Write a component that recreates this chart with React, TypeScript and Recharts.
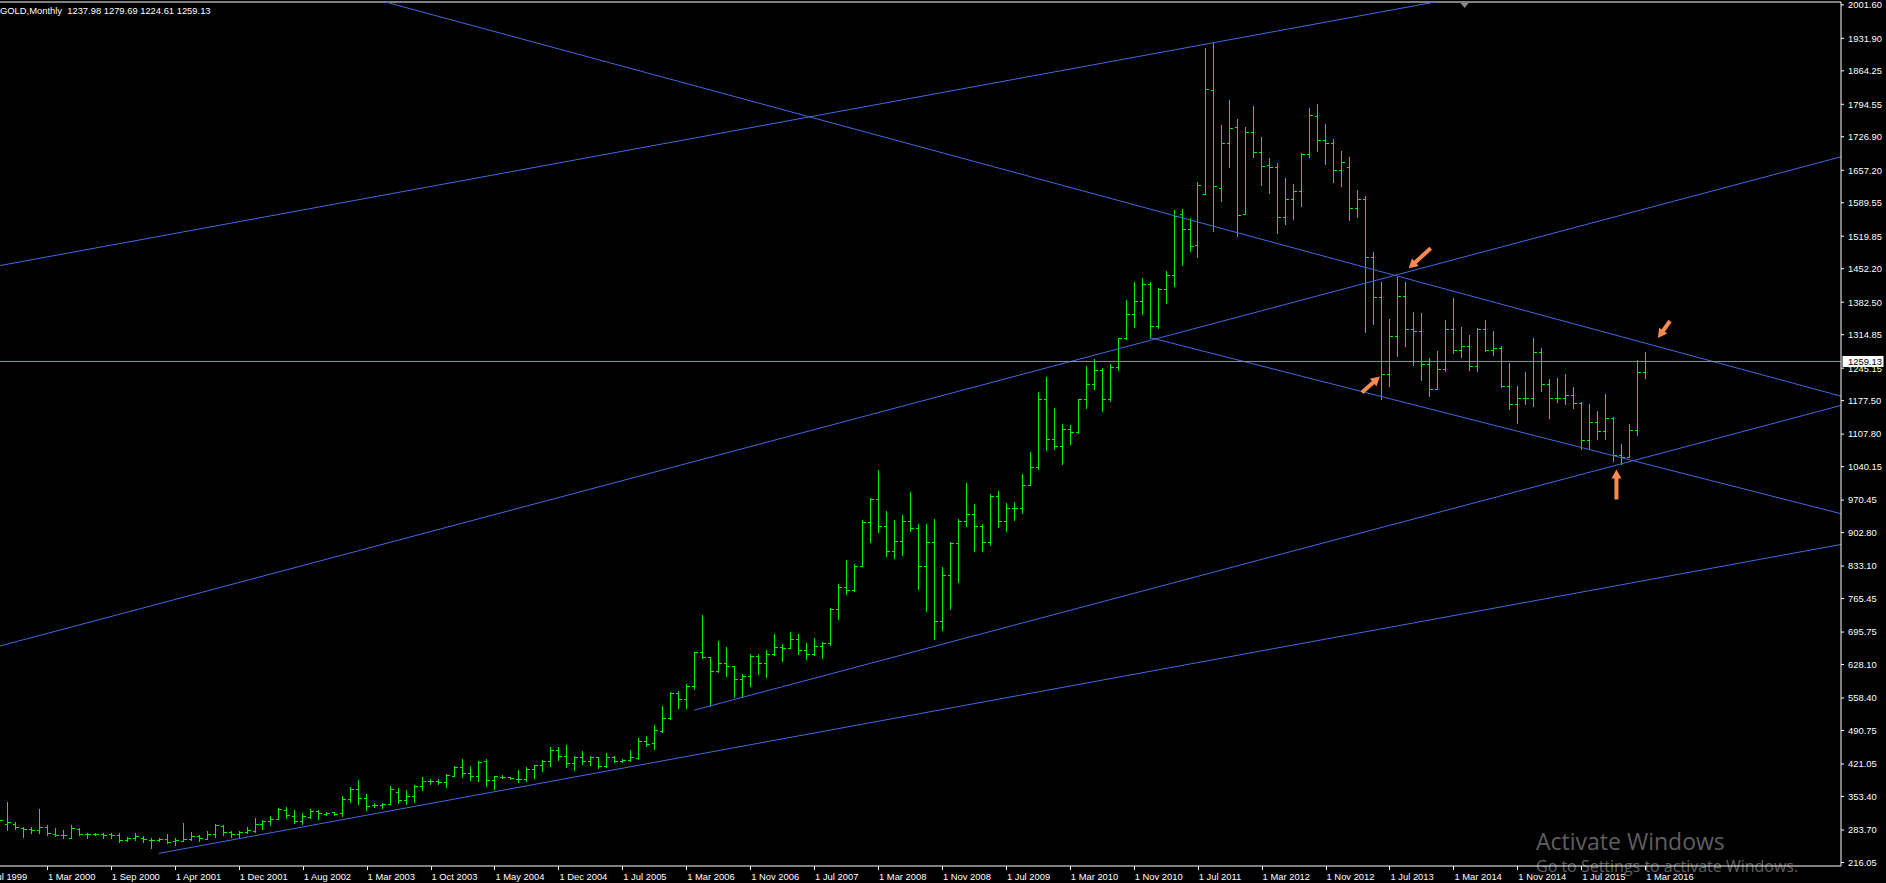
import React from "react";
import { ComposedChart, Bar, XAxis, YAxis, ReferenceLine, ReferenceDot } from "recharts";

// Barras mensais do ouro (OHLC); índice 0 = primeira barra visível.
const OPEN = [
  302, 295.5, 295.5, 288, 285.9, 282.9, 290.7, 275.4, 274, 267.7, 285.2, 275.4, 276.3, 275.4, 274.7, 272.6, 262.9, 267, 267, 262.9,
  262.9, 264.3, 260.7, 261.4, 264.1, 271.1, 265.5, 275.3, 291.9, 279.4, 275.3, 279.4, 280.8, 296.1, 303, 307.2, 325.3, 312.8, 301.6, 311.4,
  322.5, 317.6, 320.4, 318.3, 347.5, 368.3, 349.5, 335.7, 335.7, 338.4, 362, 345.4, 353.7, 375.9, 385, 385, 382.9, 396.8, 414.1, 401.6,
  395.4, 427.3, 387, 393.8, 393.3, 390.6, 390.6, 410, 418.3, 428, 450.3, 437.8, 422.5, 436.4, 428, 435, 416.9, 435, 426.7, 428.7,
  433.6, 468.3, 464.2, 490.6, 516, 569, 556, 583, 654, 643, 614, 632, 625, 599, 604, 646, 632, 651, 665, 663,
  681, 659, 650, 666, 672, 743, 789, 783, 834, 924, 972, 916, 865, 886, 928, 912, 833, 884, 718, 814,
  882, 927, 942, 916, 883, 979, 927, 954, 955, 1001, 1040, 1182, 1097, 1083, 1118, 1113, 1180, 1212, 1242, 1181,
  1247, 1308, 1358, 1385, 1421, 1333, 1409, 1439, 1565.5, 1534.3, 1500.9, 1608, 1823.9, 1619.7, 1713.4, 1746.8, 1565.5, 1736.3, 1696.1, 1668.3,
  1664.8, 1559.3, 1596.8, 1613.4, 1690.5, 1769.7, 1720.4, 1713.4, 1657.9, 1664.1, 1578, 1597.5, 1476, 1393, 1234, 1313, 1395, 1326, 1323, 1253,
  1202, 1244, 1326, 1284, 1291, 1250, 1327, 1282, 1287, 1209, 1171, 1183, 1184, 1279, 1213, 1183, 1184, 1190, 1172, 1095,
  1133, 1115, 1142, 1064, 1061, 1116, 1237.98,
];
const HIGH = [
  308, 342, 300, 290.7, 290.7, 327.4, 294.7, 288, 282.9, 294.3, 288, 277.5, 277.5, 277.5, 276.8, 277, 269.8, 276.8, 271.2, 266.3,
  266.3, 275, 266.9, 298.9, 279.4, 272.5, 280.8, 296.1, 293.3, 281.5, 280.8, 289.1, 307.9, 304.4, 312.8, 329.4, 330.8, 325.3, 319.7, 326.7,
  325.3, 321.1, 321.1, 354.4, 373.2, 387.7, 358.6, 339.8, 339.8, 375.2, 371.8, 366.2, 377.3, 394, 389.1, 389.8, 399.5, 416.2, 431.5, 416.9,
  427.3, 431.5, 396, 397.3, 394.7, 408.6, 414.1, 419, 428.7, 456.5, 456.5, 460.7, 437.8, 447.5, 437.8, 436.4, 444, 437.8, 430.8, 450.3,
  475.3, 479.4, 501.7, 541.9, 570, 574, 587, 654.5, 732, 644, 677, 664, 626, 609, 650, 650, 658, 691, 670, 696,
  692, 672, 683, 675, 745, 795, 845, 838, 930, 975, 1033, 947, 929, 939, 988, 921, 920, 932, 831, 884,
  931, 1006, 962, 920, 983, 989, 964, 966, 1024, 1070, 1195, 1227, 1162, 1128, 1127, 1181, 1249, 1265, 1245, 1253,
  1308, 1388, 1424, 1432, 1424, 1412, 1448, 1575, 1575.9, 1557.2, 1632.2, 1911.4, 1921.8, 1751.6, 1803.7, 1764.1, 1746.8, 1791.2, 1725.9, 1682.2,
  1671.8, 1641.2, 1628.7, 1692.6, 1786.4, 1795.4, 1753.7, 1722.5, 1697.5, 1685.7, 1616.2, 1603.7, 1487.7, 1425, 1348, 1434, 1424, 1362, 1361, 1267,
  1280, 1346, 1392, 1331, 1315, 1328, 1345, 1322, 1292, 1255, 1208, 1238, 1307, 1287, 1223, 1224, 1232, 1205, 1174, 1170,
  1157, 1191, 1143, 1088, 1128, 1263, 1279.69,
];
const LOW = [
  298, 283.5, 285, 269.8, 276.8, 277.5, 272.6, 271, 266.3, 267, 274, 266.3, 272.6, 267, 267, 259.3, 260.5, 263.6, 258.6, 246.1,
  261.5, 255.8, 253, 261.4, 262.8, 261.4, 264.1, 269.7, 272.5, 269.7, 269.7, 276.7, 279.4, 285, 294.7, 305.8, 308.6, 298.9, 296.1, 308.6,
  307.2, 315.5, 315.5, 313.4, 341.2, 338.4, 324.5, 331.5, 328.7, 337, 339.8, 338.4, 342.6, 367.6, 380.1, 380.1, 373.2, 395.4, 394, 388.4,
  385.7, 375.9, 369, 392.3, 390.6, 384.3, 386.4, 391.9, 407.2, 416.9, 429.4, 415.5, 408.6, 421.1, 419, 413.4, 414.1, 425.3, 425.3, 428,
  432.2, 458.6, 453, 487.8, 515, 538, 538, 578, 642, 542, 612, 605, 560, 560, 583, 609, 603, 648, 636, 662,
  651, 640, 648, 642, 669, 722, 776, 781, 834, 884, 904, 855, 850, 856, 907, 786, 740, 681, 700, 743,
  800, 917, 864, 865, 877, 915, 906, 930, 943, 1001, 1035, 1075, 1076, 1045, 1088, 1110, 1163, 1202, 1157, 1176,
  1241, 1306, 1331, 1357, 1309, 1329, 1381, 1417, 1459.9, 1489.8, 1477.3, 1607, 1531.5, 1594, 1664.8, 1521, 1565.5, 1685.6, 1627.3, 1610.6,
  1525.9, 1544.7, 1555.1, 1583.6, 1684.3, 1698.2, 1670.4, 1633.6, 1625.2, 1553.7, 1560.7, 1321, 1338, 1180, 1208, 1271, 1292, 1251, 1221, 1187,
  1202, 1239, 1277, 1268, 1241, 1240, 1281, 1272, 1206, 1161, 1131, 1170, 1167, 1197, 1142, 1175, 1170, 1162, 1077, 1077,
  1098, 1098, 1052, 1046, 1061, 1106, 1224.61,
];
const CLOSE = [
  304, 299.7, 290.7, 286.6, 282.9, 290.7, 276.8, 272.6, 272.6, 288.7, 275.4, 275.4, 276.3, 274.2, 274, 262.9, 267, 271.2, 265.6, 262.9,
  264.9, 258.5, 262.8, 264.2, 270.4, 266.2, 274.6, 294.7, 279.4, 275.3, 279.4, 283.6, 296.1, 302.3, 307.2, 326.7, 315.5, 303, 312.8, 322.5,
  318.3, 319.7, 316.9, 347.5, 368.3, 349.5, 334.3, 335, 337.7, 369, 345.4, 353.7, 375.9, 385, 385, 382.9, 398.2, 414.1, 401.6, 395.4,
  425.9, 387, 395.4, 394.8, 391.9, 390.6, 410, 418.3, 428, 450.3, 437.8, 422.5, 436.4, 428, 435, 416.9, 435, 426.7, 428.7, 436.4,
  468.3, 462.8, 492, 516.3, 569, 556, 583, 654, 643, 614, 632, 625, 599, 604, 646, 632, 651, 665, 663, 681,
  659, 650, 666, 672, 743, 789, 783, 834, 924, 972, 916, 865, 886, 928, 912, 833, 884, 718, 814, 882,
  927, 942, 916, 883, 979, 927, 954, 955, 1001, 1040, 1182, 1097, 1083, 1118, 1113, 1180, 1212, 1242, 1181, 1247,
  1308, 1358, 1385, 1421, 1333, 1409, 1439, 1563, 1534.3, 1498.8, 1626.6, 1825.9, 1624.5, 1713.4, 1744.7, 1564.1, 1736.3, 1696.1, 1666.9, 1664.8,
  1559.3, 1596.8, 1613.4, 1690.5, 1771.8, 1720.4, 1713.4, 1657.9, 1673.9, 1578, 1597.5, 1476, 1393, 1234, 1313, 1395, 1326, 1323, 1253, 1202,
  1244, 1326, 1284, 1291, 1250, 1327, 1282, 1287, 1209, 1171, 1183, 1184, 1279, 1213, 1183, 1184, 1190, 1172, 1095, 1133,
  1115, 1142, 1064, 1060, 1116, 1238, 1259.13,
];

// rótulos do eixo de tempo: um a cada 8 barras, o primeiro duas barras antes da barra 0
const TICK_LABELS = [
  "1 Jul 1999", "1 Mar 2000", "1 Sep 2000", "1 Apr 2001", "1 Dec 2001", "1 Aug 2002", "1 Mar 2003", "1 Oct 2003", "1 May 2004",
  "1 Dec 2004", "1 Jul 2005", "1 Mar 2006", "1 Nov 2006", "1 Jul 2007", "1 Mar 2008", "1 Nov 2008", "1 Jul 2009", "1 Mar 2010",
  "1 Nov 2010", "1 Jul 2011", "1 Mar 2012", "1 Nov 2012", "1 Jul 2013", "1 Mar 2014", "1 Nov 2014", "1 Jul 2015", "1 Mar 2016",
];
const Y_TICKS = [
  2001.6, 1931.9, 1864.25, 1794.55, 1726.9, 1657.2, 1589.55, 1519.85, 1452.2, 1382.5, 1314.85, 1245.15, 1177.5, 1107.8,
  1040.15, 970.45, 902.8, 833.1, 765.45, 695.75, 628.1, 558.4, 490.75, 421.05, 353.4, 283.7, 216.05,
];
const Y_MIN = 208.7;
const Y_MAX = 2007.5;
const LAST_PRICE = 1259.13;
const HEADER = "GOLD,Monthly  1237.98 1279.69 1224.61 1259.13";

// linhas de tendência: dois pontos (barra, preço), prolongadas até a direita
const TRENDLINES = [
  { i1: 0, p1: 1458.4, i2: 230, p2: 2161.1, left: true },
  { i1: 20, p1: 235, i2: 230, p2: 876.6, left: false },
  { i1: 0, p1: 666.2, i2: 175, p2: 1439.9, left: true },
  { i1: 87, p1: 533.2, i2: 203, p2: 1046, left: false },
  { i1: 147.7, p1: 1559.9, i2: 230, p2: 1189.1, left: true },
  { i1: 144, p1: 1309, i2: 230, p2: 944.3, left: false },
];
// setas: ponta em (barra, preço)
const ARROW_BAR = [176.4, 172.8, 207.6, 202.4];
const ARROW_PRICE = [1453, 1228, 1308, 1034];
const ARROW_TAIL = [[22, -20], [-18, 16], [12, -17], [0, 30]];
const SHIFT_MARK_BAR = 183.4;

const LEAD = 2;
const SLOTS = 233;
const I_MIN = -LEAD - 0.5;
const I_MAX = SLOTS - LEAD - 0.5;
const GREEN = "#00f000";
const BLUE = "#4169e1";
const FONT = '"Liberation Sans", Arial, sans-serif';
const WM_FONT = '"Open Sans", "Noto Sans", sans-serif';

const rows = Array.from({ length: SLOTS }, (_, k) => {
  const i = k - LEAD;
  if (i < 0 || i >= OPEN.length) return { k, i };
  return { k, i, range: [LOW[i], HIGH[i]], o: OPEN[i], h: HIGH[i], l: LOW[i], c: CLOSE[i] };
});
const tickKeys = TICK_LABELS.map((_, j) => j * 8);

function OhlcBar(props: any) {
  const { x, y, width, height, payload } = props;
  if (!payload || payload.o == null) return null;
  const top = Math.min(y, y + height);
  let bot = Math.max(y, y + height);
  if (bot - top < 1) bot = top + 1;
  const span = payload.h - payload.l;
  const py = (v: number) => (span > 0 ? top + ((payload.h - v) / span) * (bot - top) : top);
  const cx = Math.round(x + width / 2) + 0.5;
  const yo = Math.round(py(payload.o)) + 0.5;
  const yc = Math.round(py(payload.c)) + 0.5;
  return (
    <g stroke={GREEN} strokeWidth={1} shapeRendering="crispEdges">
      <line x1={cx} x2={cx} y1={Math.round(top)} y2={Math.round(bot) + 1} />
      <line x1={cx - 3} x2={cx} y1={yo} y2={yo} />
      <line x1={cx} x2={cx + 3} y1={yc} y2={yc} />
    </g>
  );
}

function XTick(props: any) {
  const { x, y, payload } = props;
  const label = TICK_LABELS[payload.value / 8];
  const tx = Math.round(x) + 0.5;
  return (
    <g>
      <line x1={tx} x2={tx} y1={y} y2={y + 4} stroke="#fff" shapeRendering="crispEdges" />
      <text x={x + 1} y={y + 14} fill="#fff" fontSize={9.4} fontFamily={FONT}>
        {label}
      </text>
    </g>
  );
}

function BidLabel(props: any) {
  const vb = props.viewBox;
  if (!vb) return null;
  const xr = vb.x + vb.width;
  return (
    <g>
      <rect x={xr + 1.5} y={vb.y - 5.5} width={41} height={11} fill="#fff" />
      <text x={xr + 7} y={vb.y + 3.5} fontSize={9.4} fontFamily={FONT} fill="#000">
        {LAST_PRICE.toFixed(2)}
      </text>
    </g>
  );
}

function makeArrow(n: number) {
  return (props: any) => {
    const { cx, cy } = props;
    const [dx, dy] = ARROW_TAIL[n];
    const len = Math.hypot(dx, dy);
    const ux = -dx / len;
    const uy = -dy / len;
    const vx = -uy;
    const vy = ux;
    const hb = 9;
    const hw = 5;
    const sw = 2;
    const pt = (a: number, b: number) => `${cx - a * ux + b * vx},${cy - a * uy + b * vy}`;
    const pts = [pt(0, 0), pt(hb, hw), pt(hb, sw), pt(len, sw), pt(len, -sw), pt(hb, -sw), pt(hb, -hw)].join(" ");
    return <polygon points={pts} fill="#f98a52" />;
  };
}

function ShiftMark(props: any) {
  const { cx, cy } = props;
  return <polygon points={`${cx - 4},${cy + 1} ${cx + 4},${cy + 1} ${cx},${cy + 6}`} fill="#8a8a8a" />;
}

function extend(t: (typeof TRENDLINES)[number]) {
  const s = (t.p2 - t.p1) / (t.i2 - t.i1);
  const a = t.left ? I_MIN : t.i1;
  return [
    { x: a, y: t.p1 + s * (a - t.i1) },
    { x: I_MAX, y: t.p1 + s * (I_MAX - t.i1) },
  ];
}

export default function App() {
  return (
    <div style={{ position: "relative", width: 1886, height: 883, overflow: "hidden", background: "#000" }}>
      <style>{"body{margin:0;background:#000}"}</style>
      <div style={{ position: "absolute", left: -21, top: 0 }}>
        <ComposedChart width={1907} height={883} data={rows} margin={{ top: 2, right: 0, bottom: 0, left: 0 }}>
          <XAxis
            dataKey="k"
            type="category"
            ticks={tickKeys}
            interval={0}
            height={17}
            tickLine={false}
            tickSize={0}
            tickMargin={0}
            axisLine={{ stroke: "#fff" }}
            tick={<XTick />}
          />
          <XAxis xAxisId="num" dataKey="i" type="number" domain={[I_MIN, I_MAX]} allowDataOverflow hide />
          <YAxis
            orientation="right"
            type="number"
            domain={[Y_MIN, Y_MAX]}
            allowDataOverflow
            ticks={Y_TICKS}
            interval={0}
            width={45}
            tickSize={3}
            tickMargin={4}
            tickFormatter={(v: number) => v.toFixed(2)}
            tick={{ fill: "#fff", fontSize: 9.4, fontFamily: FONT }}
            axisLine={{ stroke: "#fff" }}
            tickLine={{ stroke: "#fff" }}
          />
          <ReferenceLine y={Y_MAX} stroke="#fff" ifOverflow="visible" />
          <Bar dataKey="range" shape={OhlcBar} isAnimationActive={false} />
          {TRENDLINES.map((t, n) => (
            <ReferenceLine
              key={n}
              xAxisId="num"
              segment={extend(t)}
              stroke={BLUE}
              strokeWidth={1}
              ifOverflow="hidden"
            />
          ))}
          <ReferenceLine y={LAST_PRICE} stroke="#8e979f" label={<BidLabel />} />
          {ARROW_BAR.map((b, n) => (
            <ReferenceDot
              key={n}
              xAxisId="num"
              x={b}
              y={ARROW_PRICE[n]}
              r={0}
              ifOverflow="visible"
              shape={makeArrow(n)}
            />
          ))}
          <ReferenceDot xAxisId="num" x={SHIFT_MARK_BAR} y={Y_MAX} r={0} ifOverflow="visible" shape={ShiftMark} />
        </ComposedChart>
      </div>
      <svg width={1886} height={883} style={{ position: "absolute", left: 0, top: 0, pointerEvents: "none" }}>
        <text x={0} y={14} fill="#fff" fontSize={9.4} fontFamily={FONT} style={{ whiteSpace: "pre" }}>
          {HEADER}
        </text>
        <text x={1536} y={850} fill="rgba(255,255,255,0.38)" fontSize={23} fontFamily={WM_FONT}>
          Activate Windows
        </text>
        <text x={1536} y={872} fill="rgba(255,255,255,0.38)" fontSize={16} fontFamily={WM_FONT}>
          Go to Settings to activate Windows.
        </text>
      </svg>
    </div>
  );
}
